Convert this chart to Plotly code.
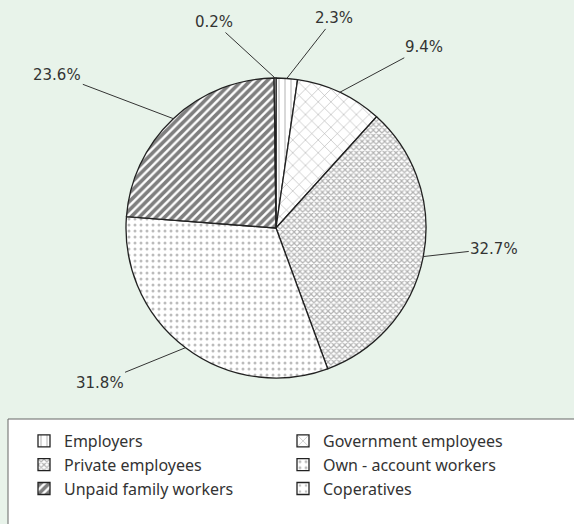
import plotly.graph_objects as go
import math

# ---- data ----
categories = ["Employers", "Government employees", "Private employees",
              "Own - account workers", "Unpaid family workers", "Coperatives"]
values = [2.3, 9.4, 32.7, 31.8, 23.6, 0.2]
labels_text = ["2.3%", "9.4%", "32.7%", "31.8%", "23.6%", "0.2%"]

# ---- styles ----
W, H = 574, 524
BG = "#E8F3EA"
pattern_shapes = ["|", "x", "x", ".", "/", "."]
pattern_fg = ["#555555", "#555555", "#666666", "#7a7a7a", "#000000", "#888888"]
pattern_size = [6, 9, 4, 6, 6, 6]
pattern_solid = [0.15, 0.12, 0.5, 0.2, 0.6, 0.15]
# label offsets (px) from slice edge point to label centre
label_offsets = [(47, -60), (84, -45), (71, -8), (-86, 35), (-116, -44), (-61, -56)]

cx, cy, R = 276, 228, 150
dom_x = [(cx - R) / W, (cx + R) / W]
dom_y = [1 - (cy + R) / H, 1 - (cy - R) / H]

fig = go.Figure()
fig.add_trace(go.Pie(
    labels=categories, values=values, sort=False, direction="clockwise",
    rotation=0, textinfo="none", hoverinfo="label+percent",
    domain=dict(x=dom_x, y=dom_y),
    marker=dict(
        colors=["white"] * len(values),
        line=dict(color="#222222", width=1.3),
        pattern=dict(shape=pattern_shapes, fgcolor=pattern_fg, bgcolor="white",
                     size=pattern_size, solidity=pattern_solid, fillmode="overlay"),
    ),
))

total = sum(values)
cum = 0.0
annotations = []
for v, t, (ox, oy) in zip(values, labels_text, label_offsets):
    mid = 2 * math.pi * (cum + v / 2) / total
    cum += v
    px = cx + R * math.sin(mid)
    py = cy - R * math.cos(mid)
    annotations.append(dict(
        x=px / W, y=1 - py / H, xref="paper", yref="paper",
        text=t, showarrow=True, arrowhead=0, arrowwidth=1, arrowcolor="#333333",
        ax=ox, ay=oy, standoff=0,
        font=dict(family="DejaVu Sans", size=15, color="#333333"),
    ))

fig.update_layout(
    width=W, height=H,
    margin=dict(l=0, r=0, t=0, b=0),
    paper_bgcolor=BG, plot_bgcolor=BG,
    annotations=annotations,
    shapes=[dict(type="rect", xref="paper", yref="paper",
                 x0=8 / W, x1=1.02, y0=-0.02, y1=1 - 419 / H,
                 line=dict(color="#666666", width=1), fillcolor="white", layer="below")],
    showlegend=True,
    legend=dict(orientation="h", x=8 / W, y=1 - 424 / H, xanchor="left", yanchor="top",
                bgcolor="rgba(0,0,0,0)", entrywidth=198, entrywidthmode="pixels",
                indentation=16, traceorder="normal",
                font=dict(family="Noto Sans", size=16, color="#333333")),
)

fig.write_html("out.html", post_script="document.body.style.margin='0';",
               config={"displayModeBar": False})
